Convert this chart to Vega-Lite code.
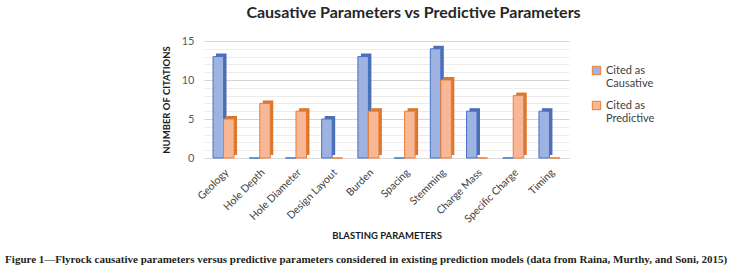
{
  "$schema": "https://vega.github.io/schema/vega-lite/v6.json",
  "background": "white",
  "padding": 5,
  "config": {"view": {"stroke": null}, "font": "Lato"},
  "title": {
    "text": "Figure 1—Flyrock causative parameters versus predictive parameters considered in existing prediction models (data from Raina, Murthy, and Soni, 2015)",
    "orient": "bottom",
    "anchor": "middle",
    "font": "Liberation Serif",
    "fontSize": 11,
    "fontWeight": "bold",
    "color": "#231f20",
    "dx": -42,
    "offset": 14
  },
  "vconcat": [
    {
      "title": {
        "text": "Causative Parameters vs Predictive Parameters",
        "font": "Lato",
        "fontSize": 16,
        "fontWeight": "bold",
        "color": "#262626",
        "offset": 14,
        "dx": 27
      },
      "width": 365,
      "height": 117,
      "data": {
        "values": [
          {"param": "Geology", "series": "Cited as Causative", "count": 13},
          {"param": "Geology", "series": "Cited as Predictive", "count": 5},
          {"param": "Hole Depth", "series": "Cited as Causative", "count": 0},
          {"param": "Hole Depth", "series": "Cited as Predictive", "count": 7},
          {"param": "Hole Diameter", "series": "Cited as Causative", "count": 0},
          {"param": "Hole Diameter", "series": "Cited as Predictive", "count": 6},
          {"param": "Design Layout", "series": "Cited as Causative", "count": 5},
          {"param": "Design Layout", "series": "Cited as Predictive", "count": 0},
          {"param": "Burden", "series": "Cited as Causative", "count": 13},
          {"param": "Burden", "series": "Cited as Predictive", "count": 6},
          {"param": "Spacing", "series": "Cited as Causative", "count": 0},
          {"param": "Spacing", "series": "Cited as Predictive", "count": 6},
          {"param": "Stemming", "series": "Cited as Causative", "count": 14},
          {"param": "Stemming", "series": "Cited as Predictive", "count": 10},
          {"param": "Charge Mass", "series": "Cited as Causative", "count": 6},
          {"param": "Charge Mass", "series": "Cited as Predictive", "count": 0},
          {"param": "Specific Charge", "series": "Cited as Causative", "count": 0},
          {"param": "Specific Charge", "series": "Cited as Predictive", "count": 8},
          {"param": "Timing", "series": "Cited as Causative", "count": 6},
          {"param": "Timing", "series": "Cited as Predictive", "count": 0}
        ]
      },
      "encoding": {
        "x": {
          "field": "param",
          "type": "nominal",
          "sort": null,
          "scale": {"paddingInner": 0.42, "paddingOuter": 0.25},
          "axis": {
            "title": "BLASTING PARAMETERS",
            "titleFontSize": 9.5,
            "titleFontWeight": "bold",
            "titleColor": "#1a1a1a",
            "titlePadding": 6,
            "labelAngle": -45,
            "labelFontSize": 10.5,
            "labelColor": "#404040",
            "labelPadding": 9,
            "ticks": false,
            "domain": true,
            "domainColor": "#d9d9d9"
          }
        },
        "y": {
          "field": "count",
          "type": "quantitative",
          "scale": {"domain": [0, 15], "nice": false},
          "axis": {
            "title": "NUMBER OF CITATIONS",
            "titleFontSize": 9.5,
            "titleFontWeight": "bold",
            "titleColor": "#1a1a1a",
            "titlePadding": 10,
            "values": [0, 1, 2, 3, 4, 5, 6, 7, 8, 9, 10, 11, 12, 13, 14, 15],
            "labelExpr": "datum.value % 5 === 0 ? datum.label : ''",
            "labelFontSize": 11,
            "labelColor": "#595959",
            "labelPadding": 10,
            "ticks": false,
            "domain": false,
            "grid": true,
            "gridColor": {"condition": {"test": "datum.value % 5 === 0", "value": "#d4d4d4"}, "value": "#ececec"}
          }
        }
      },
      "resolve": {"scale": {"xOffset": "independent"}},
      "layer": [
        {
          "mark": {"type": "bar", "yOffset": -3, "y2Offset": -3},
          "encoding": {
            "xOffset": {"field": "series", "type": "nominal", "sort": null, "scale": {"paddingInner": 0, "range": [3, 24]}},
            "fill": {"condition": {"test": "datum.series === 'Cited as Causative'", "value": "#4F6FB3"}, "value": "#D9772F"}
          }
        },
        {
          "mark": {"type": "bar", "strokeWidth": 1},
          "encoding": {
            "xOffset": {"field": "series", "type": "nominal", "sort": null, "scale": {"paddingInner": 0, "range": [0, 21]}},
            "color": {
              "field": "series",
              "type": "nominal",
              "scale": {"domain": ["Cited as Causative", "Cited as Predictive"], "range": ["#9FB3E2", "#F8B797"]},
              "legend": {
                "title": null,
                "orient": "none",
                "legendX": 387,
                "legendY": 24,
                "symbolType": "square",
                "symbolSize": 70,
                "symbolStrokeWidth": 1,
                "labelFontSize": 11,
                "labelColor": "#404040",
                "labelExpr": "['Cited as', slice(datum.label, 9)]",
                "rowPadding": 10
              }
            },
            "stroke": {"condition": {"test": "datum.series === 'Cited as Causative'", "value": "#4472C4"}, "value": "#ED7D31"}
          }
        }
      ]
    }
  ]
}
